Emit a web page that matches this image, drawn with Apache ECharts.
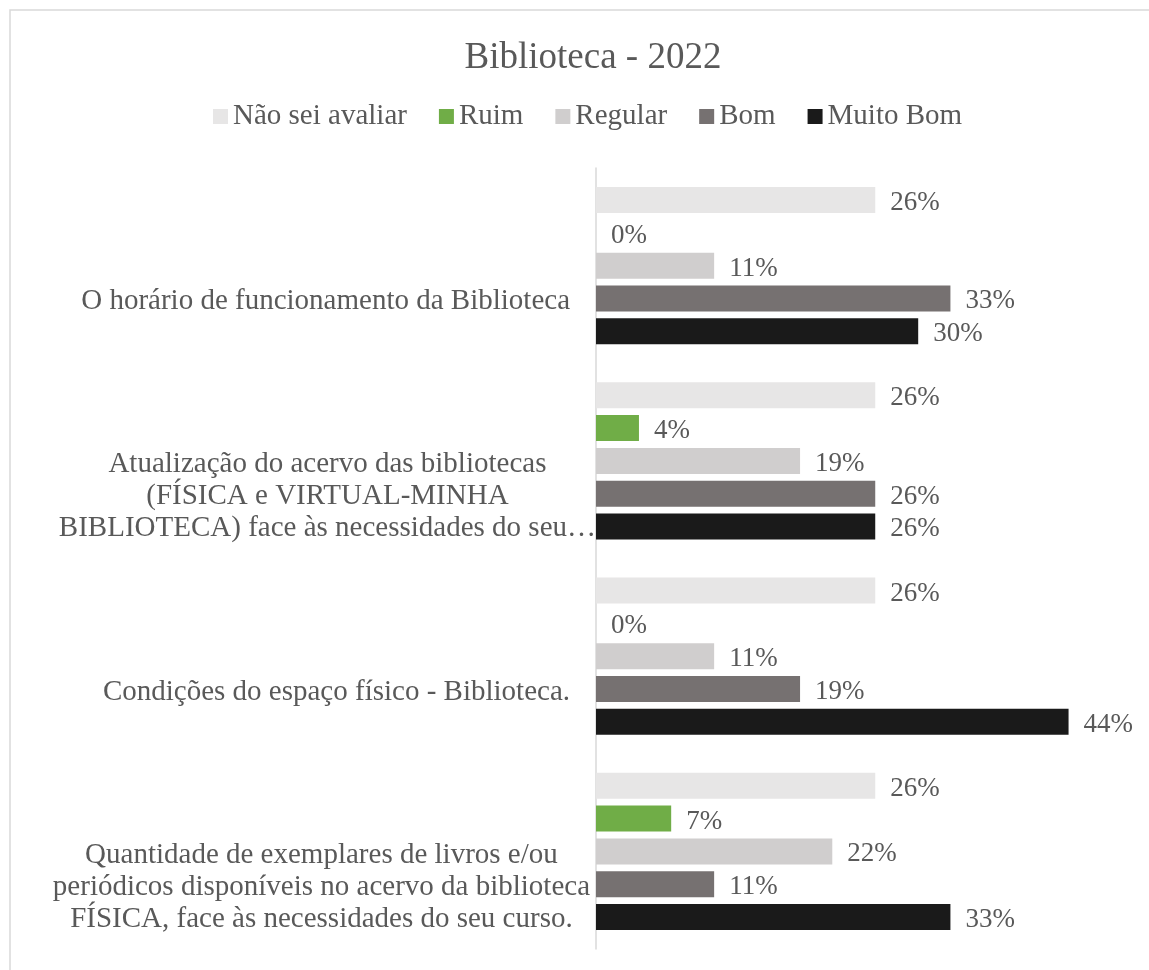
<!DOCTYPE html>
<html lang="pt">
<head>
<meta charset="utf-8">
<title>Biblioteca - 2022</title>
<script src="https://cdn.jsdelivr.net/npm/echarts@6/dist/echarts.min.js"></script>
<style>
  html, body { margin: 0; padding: 0; background: #ffffff; }
  #chart { width: 1149px; height: 970px; }
</style>
</head>
<body>
<div id="chart"></div>
<script>
// Survey items (top to bottom), with the line breaks used on the axis
const categories = [
  'O horário de funcionamento da Biblioteca',
  'Atualização do acervo das bibliotecas\n(FÍSICA e VIRTUAL-MINHA\nBIBLIOTECA) face às necessidades do seu…',
  'Condições do espaço físico - Biblioteca.',
  'Quantidade de exemplares de livros e/ou\nperiódicos disponíveis no acervo da biblioteca\nFÍSICA, face às necessidades do seu curso.'
];

const seriesNames = ['Não sei avaliar', 'Ruim', 'Regular', 'Bom', 'Muito Bom'];

// Share of answers (%) per item
const naoSeiAvaliar = [26, 26, 26, 26];
const ruim          = [0, 4, 0, 7];
const regular       = [11, 19, 11, 22];
const bom           = [33, 26, 19, 11];
const muitoBom      = [30, 26, 44, 33];

const seriesValues = [naoSeiAvaliar, ruim, regular, bom, muitoBom];
const seriesColors = ['#e7e6e6', '#70ad47', '#d0cece', '#767171', '#1a1a1a'];

const FONT = "'Liberation Serif', 'Times New Roman', serif";
const TEXT = '#595959';

// right-side spacing of each axis label block
const labelPadRight = [26, 0, 26, 6];
const rich = {};
labelPadRight.forEach((p, i) => {
  rich['c' + i] = {
    align: 'center',
    fontFamily: FONT,
    fontSize: 29,
    lineHeight: 32,
    color: TEXT,
    padding: [0, p, 0, 0]
  };
});

const chart = echarts.init(document.getElementById('chart'));

chart.setOption({
  backgroundColor: '#ffffff',
  animation: false,
  graphic: [{
    type: 'rect',
    shape: { x: 10, y: 10, width: 1200, height: 1000 },
    style: { fill: 'none', stroke: '#d9d9d9', lineWidth: 1.5 },
    silent: true,
    z: -1
  }],
  title: {
    text: 'Biblioteca - 2022',
    left: 588,
    top: 35,
    textAlign: 'center',
    textStyle: { fontFamily: FONT, fontSize: 37, fontWeight: 'normal', color: TEXT }
  },
  legend: {
    data: seriesNames,
    left: 208,
    top: 97,
    itemWidth: 15,
    itemHeight: 15,
    itemGap: 32,
    icon: 'rect',
    textStyle: { fontFamily: FONT, fontSize: 29, color: TEXT }
  },
  grid: { left: 596, top: 168, width: 537, height: 781, containLabel: false },
  xAxis: {
    type: 'value',
    min: 0,
    max: 50,
    show: false
  },
  yAxis: {
    type: 'category',
    inverse: true,
    data: categories,
    axisLine: { show: true, lineStyle: { color: '#d9d9d9', width: 1.5 } },
    axisTick: { show: false },
    axisLabel: {
      margin: 0,
      padding: [72, 0, 0, 0],
      formatter: (value, idx) => value.split('\n').map(l => '{c' + idx + '|' + l + '}').join('\n'),
      rich: rich
    }
  },
  series: seriesNames.map((name, i) => ({
    name: name,
    type: 'bar',
    data: seriesValues[i],
    barWidth: 26,
    barGap: '26%',
    itemStyle: { color: seriesColors[i] },
    label: {
      show: true,
      position: 'right',
      distance: 15,
      offset: [0, 3],
      formatter: '{c}%',
      fontFamily: FONT,
      fontSize: 27,
      color: TEXT
    }
  }))
});
</script>
</body>
</html>
